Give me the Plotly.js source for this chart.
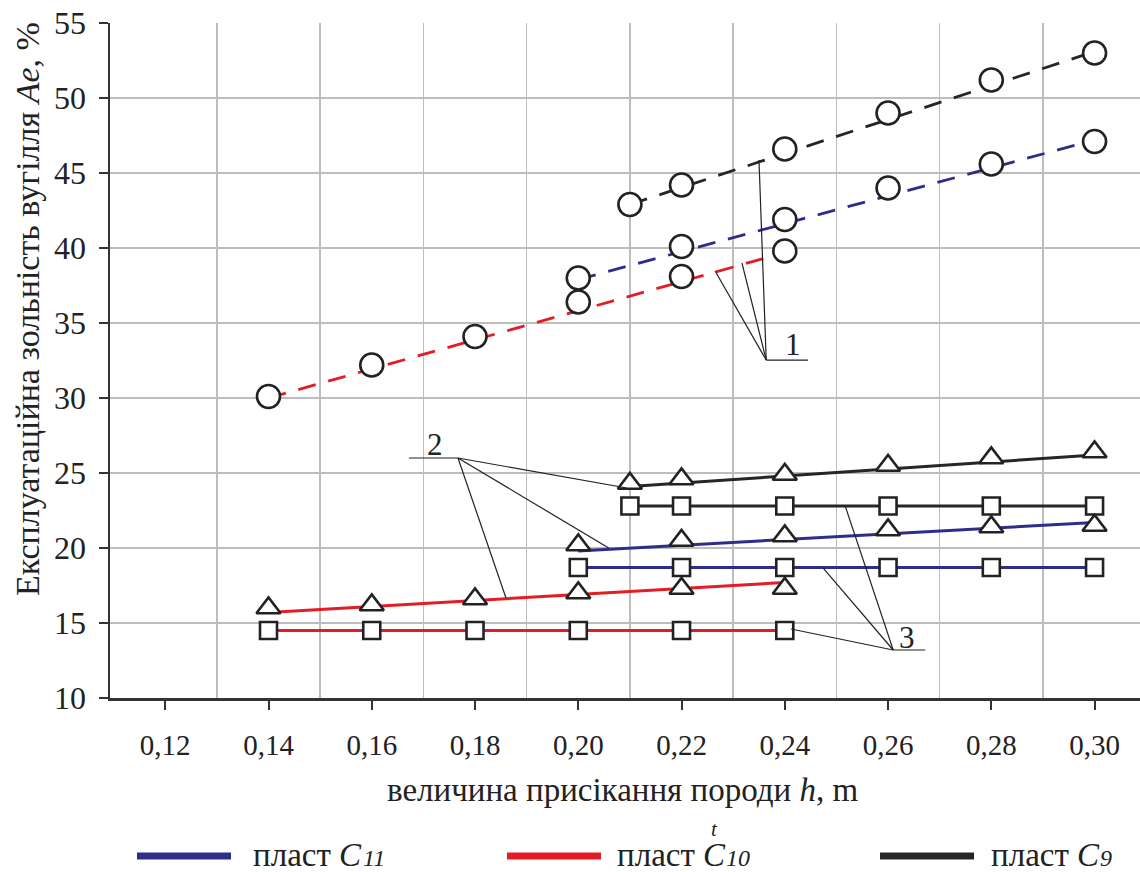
<!DOCTYPE html>
<html><head><meta charset="utf-8">
<script src="https://cdn.plot.ly/plotly-3.0.1.min.js"></script>
<style>html,body{margin:0;padding:0;background:#fff}#chart{width:1140px;height:872px}</style>
</head><body><div id="chart"></div>
<script>
// ---------- data ----------
const hC9  = [0.21, 0.22, 0.24, 0.26, 0.28, 0.30];
const hC11 = [0.20, 0.22, 0.24, 0.26, 0.28, 0.30];
const hC10 = [0.14, 0.16, 0.18, 0.20, 0.22, 0.24];

// curve 1 (circles) + dashed trend (end values)
const c1C9  = [42.9, 44.2, 46.6, 49.0, 51.2, 53.0];
const c1C11 = [38.0, 40.1, 41.9, 44.0, 45.6, 47.1];
const c1C10 = [30.1, 32.2, 34.1, 36.4, 38.1, 39.8];
const fit1C9  = [42.9, 53.1];
const fit1C11 = [37.9, 47.2];
const fit1C10 = [30.0, 39.7];

// curve 2 (triangles) + solid trend (end values)
const c2C9  = [24.3, 24.6, 24.9, 25.5, 26.0, 26.4];
const c2C11 = [20.2, 20.5, 20.8, 21.2, 21.4, 21.5];
const c2C10 = [16.0, 16.2, 16.6, 17.0, 17.3, 17.3];
const fit2C9  = [24.1, 26.2];
const fit2C11 = [19.8, 21.7];
const fit2C10 = [15.7, 17.7];

// curve 3 (squares)
const c3C9  = [22.8, 22.8, 22.8, 22.8, 22.8, 22.8];
const c3C11 = [18.7, 18.7, 18.7, 18.7, 18.7, 18.7];
const c3C10 = [14.5, 14.5, 14.5, 14.5, 14.5, 14.5];

const xTickVals = [0.12, 0.14, 0.16, 0.18, 0.20, 0.22, 0.24, 0.26, 0.28, 0.30];
const xTickText = ['0,12','0,14','0,16','0,18','0,20','0,22','0,24','0,26','0,28','0,30'];
const xGridVals = [0.13, 0.15, 0.17, 0.19, 0.21, 0.23, 0.25, 0.27, 0.29];
const yTickVals = [10, 15, 20, 25, 30, 35, 40, 45, 50, 55];

// leader callouts: label, label pos, apex, underline end, targets
const leadLabels = ['1', '2', '3'];
const leadLabelX = [0.2416, 0.1722, 0.2637];
const leadLabelY = [33.55, 26.9, 14.05];
const leadApexX  = [0.2364, 0.1767, 0.2610];
const leadApexY  = [32.53, 26.0, 13.2];
const leadUnderX = [0.2445, 0.1672, 0.2672];
const leadTargetsX = [[0.2350, 0.2317, 0.2265], [0.2094, 0.2059, 0.1860], [0.2517, 0.2474, 0.2412]];
const leadTargetsY = [[45.87, 39.0, 38.47], [24.0, 20.0, 16.67], [22.8, 18.67, 14.6]];

// legend
const legendNames = ['пласт', 'пласт', 'пласт'];
const legendSeam  = ['11', '10', '9'];
const legendSup   = ['', 't', ''];
const legendColors = ['#2f2d8a', '#e31d25', '#262626'];
const legendLineX0 = [137, 507, 880];
const legendTextX  = [251, 615, 989];
const legendSeamX  = [361, 724, 1098];

// ---------- styles ----------
const cBlue = '#2f2d8a', cRed = '#e31d25', cBlack = '#262626', cMark = '#222222';
const FONT = 'Liberation Serif';

function ends(arr) { return [arr[0], arr[arr.length - 1]]; }

const traces = [];
function trend(x, y, color, dash) {
  traces.push({x: ends(x), y: y, mode: 'lines', showlegend: false, hoverinfo: 'skip',
    line: {color: color, width: dash ? 2.8 : 3, dash: dash ? '18px,13px' : 'solid'}});
}
function marks(x, y, symbol, size, color, withLine) {
  traces.push({x: x, y: y, mode: withLine ? 'lines+markers' : 'markers', showlegend: false,
    line: {color: color, width: 3},
    marker: {symbol: symbol, size: size, color: '#ffffff', line: {color: cMark, width: 2.6}}});
}
trend(hC9, fit1C9, cBlack, true);
trend(hC11, fit1C11, cBlue, true);
trend(hC10, fit1C10, cRed, true);
trend(hC9, fit2C9, cBlack, false);
trend(hC11, fit2C11, cBlue, false);
trend(hC10, fit2C10, cRed, false);
marks(hC9, c3C9, 'square', 17, cBlack, true);
marks(hC11, c3C11, 'square', 17, cBlue, true);
marks(hC10, c3C10, 'square', 17, cRed, true);
marks(hC9, c2C9, 'triangle-up', 21, cBlack, false);
marks(hC11, c2C11, 'triangle-up', 21, cBlue, false);
marks(hC10, c2C10, 'triangle-up', 21, cRed, false);
marks(hC9, c1C9, 'circle', 23, cBlack, false);
marks(hC11, c1C11, 'circle', 23, cBlue, false);
marks(hC10, c1C10, 'circle', 23, cRed, false);

// ---------- shapes & annotations ----------
const shapes = [];
const annotations = [];
for (let i = 0; i < leadLabels.length; i++) {
  shapes.push({type: 'line', xref: 'x', yref: 'y', x0: leadApexX[i], y0: leadApexY[i],
    x1: leadUnderX[i], y1: leadApexY[i], line: {color: '#222', width: 1.2}});
  for (let j = 0; j < leadTargetsX[i].length; j++) {
    shapes.push({type: 'line', xref: 'x', yref: 'y', x0: leadApexX[i], y0: leadApexY[i],
      x1: leadTargetsX[i][j], y1: leadTargetsY[i][j], line: {color: '#222', width: 1.2}});
  }
  annotations.push({xref: 'x', yref: 'y', x: leadLabelX[i], y: leadLabelY[i], text: leadLabels[i],
    xanchor: 'center', yanchor: 'middle',
    showarrow: false, font: {family: FONT, size: 31, color: '#222'}});
}

const W = 1140, H = 872, ML = 110, MR = 0, MT = 23, MB = 174;
const pw = W - ML - MR, ph = H - MT - MB;
function px2paperX(px) { return (px - ML) / pw; }
function px2paperY(py) { return (H - MB - py) / ph; }

const legendY = 855;
for (let i = 0; i < legendNames.length; i++) {
  shapes.push({type: 'line', xref: 'paper', yref: 'paper', x0: px2paperX(legendLineX0[i]),
    x1: px2paperX(legendLineX0[i] + 94), y0: px2paperY(legendY + 1), y1: px2paperY(legendY + 1),
    line: {color: legendColors[i], width: 7}});
  annotations.push({xref: 'paper', yref: 'paper', x: px2paperX(legendTextX[i]), y: px2paperY(legendY),
    xanchor: 'left', yanchor: 'middle', text: legendNames[i] + ' <i>C</i>',
    showarrow: false, font: {family: FONT, size: 33, color: '#222'}});
  annotations.push({xref: 'paper', yref: 'paper', x: px2paperX(legendSeamX[i]), y: px2paperY(legendY + 3),
    xanchor: 'left', yanchor: 'middle', text: '<i>' + legendSeam[i] + '</i>',
    showarrow: false, font: {family: FONT, size: 24, color: '#222'}});
  if (legendSup[i]) {
    annotations.push({xref: 'paper', yref: 'paper', x: px2paperX(legendSeamX[i] - 10), y: px2paperY(legendY - 26),
      xanchor: 'center', yanchor: 'middle', text: '<i>' + legendSup[i] + '</i>',
      showarrow: false, font: {family: FONT, size: 21, color: '#222'}});
  }
}

// axis titles
annotations.push({xref: 'paper', yref: 'paper', x: px2paperX(27), y: px2paperY(309),
  xanchor: 'center', yanchor: 'middle',
  text: 'Експлуатаційна зольність вугілля <i>Ae</i>, %', textangle: -90, showarrow: false,
  font: {family: FONT, size: 34, color: '#222'}});
annotations.push({xref: 'paper', yref: 'paper', x: px2paperX(622), y: px2paperY(790),
  xanchor: 'center', yanchor: 'middle',
  text: 'величина присікання породи <i>h</i>, m', showarrow: false,
  font: {family: FONT, size: 33, color: '#222'}});

const layout = {
  width: W, height: H,
  margin: {l: ML, r: MR, t: MT, b: MB, pad: 0},
  paper_bgcolor: '#ffffff', plot_bgcolor: '#ffffff',
  showlegend: false,
  font: {family: FONT, color: '#222'},
  xaxis: {
    range: [0.1093, 0.3088], tickmode: 'array', tickvals: xTickVals, ticktext: xTickText,
    ticks: 'outside', ticklen: 9, tickwidth: 2, tickcolor: '#333',
    showline: true, linewidth: 2.5, linecolor: '#333', zeroline: false,
    showgrid: false,
    minor: {tickmode: 'array', tickvals: xGridVals, showgrid: true, gridcolor: '#bdbdbd', gridwidth: 1.5, ticks: ''},
    tickfont: {family: FONT, size: 29, color: '#222'}, ticklabelstandoff: 11
  },
  yaxis: {
    range: [10, 55], tickmode: 'array', tickvals: yTickVals,
    ticks: 'outside', ticklen: 9, tickwidth: 2, tickcolor: '#333',
    showline: true, linewidth: 2.5, linecolor: '#333', zeroline: false,
    showgrid: true, gridcolor: '#bdbdbd', gridwidth: 1.5,
    tickfont: {family: FONT, size: 32, color: '#222'}, ticklabelstandoff: 6
  },
  shapes: shapes,
  annotations: annotations
};

Plotly.newPlot('chart', traces, layout, {displayModeBar: false, staticPlot: true});
</script>
</body></html>
